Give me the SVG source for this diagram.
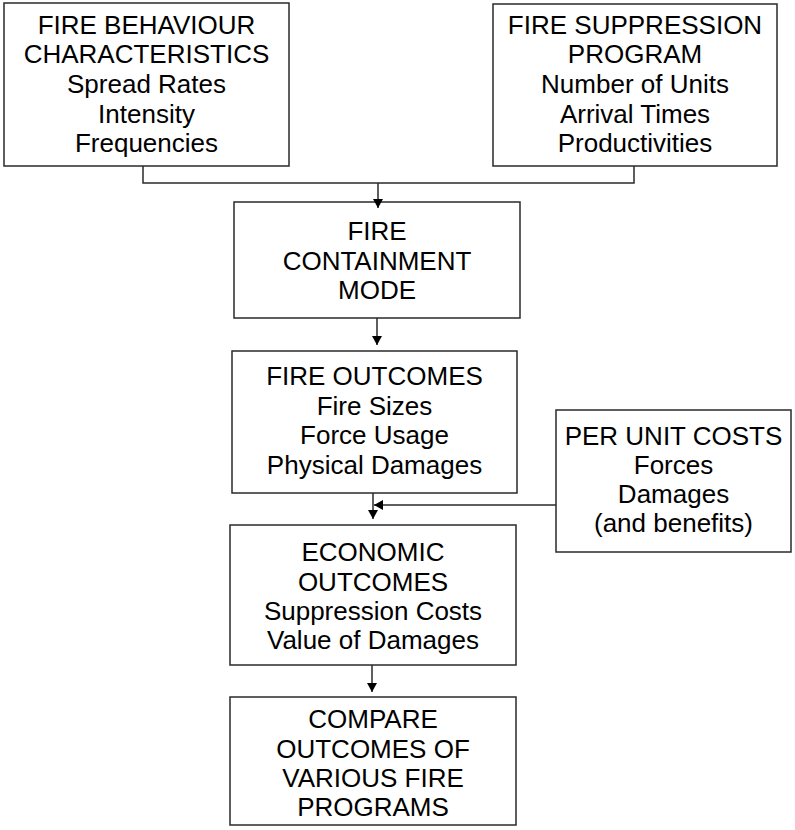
<svg xmlns="http://www.w3.org/2000/svg" width="795" height="830" viewBox="0 0 795 830">
<style>
.box{fill:#fff;stroke:#2a2a2a;stroke-width:1.5}
.t{font-family:"Liberation Sans",Arial,sans-serif;font-size:26px;fill:#000;text-anchor:middle}
.c{fill:none;stroke:#2a2a2a;stroke-width:1.5}
</style>
<defs>
<marker id="ah" viewBox="0 0 9 10" refX="9" refY="5" markerWidth="9" markerHeight="10" markerUnits="userSpaceOnUse" orient="auto">
<path d="M0,0 L9,5 L0,10 Z" fill="#000"/>
</marker>
</defs>
<rect width="795" height="830" fill="#fff"/>
<g id="n1">
<rect class="box" x="4" y="3" width="285" height="163"/>
<text class="t" x="146.5" y="33.5">FIRE BEHAVIOUR</text>
<text class="t" x="146.5" y="63.2">CHARACTERISTICS</text>
<text class="t" x="146.5" y="92.9">Spread Rates</text>
<text class="t" x="146.5" y="122.6">Intensity</text>
<text class="t" x="146.5" y="152.3">Frequencies</text>
</g>
<g id="n2">
<rect class="box" x="493" y="4" width="284" height="162"/>
<text class="t" x="635" y="33.5">FIRE SUPPRESSION</text>
<text class="t" x="635" y="63.2">PROGRAM</text>
<text class="t" x="635" y="92.9">Number of Units</text>
<text class="t" x="635" y="122.6">Arrival Times</text>
<text class="t" x="635" y="152.3">Productivities</text>
</g>
<g id="n3">
<rect class="box" x="234" y="202" width="286" height="116"/>
<text class="t" x="377" y="240">FIRE</text>
<text class="t" x="377" y="269.5">CONTAINMENT</text>
<text class="t" x="377" y="299">MODE</text>
</g>
<g id="n4">
<rect class="box" x="232" y="351" width="285" height="142"/>
<text class="t" x="374.5" y="385">FIRE OUTCOMES</text>
<text class="t" x="374.5" y="414.5">Fire Sizes</text>
<text class="t" x="374.5" y="444">Force Usage</text>
<text class="t" x="374.5" y="473.5">Physical Damages</text>
</g>
<g id="n5">
<rect class="box" x="556" y="410" width="235" height="142"/>
<text class="t" x="673.5" y="445">PER UNIT COSTS</text>
<text class="t" x="673.5" y="474">Forces</text>
<text class="t" x="673.5" y="503">Damages</text>
<text class="t" x="673.5" y="532">(and benefits)</text>
</g>
<g id="n6">
<rect class="box" x="230" y="525" width="286" height="140"/>
<text class="t" x="373" y="561">ECONOMIC</text>
<text class="t" x="373" y="590.5">OUTCOMES</text>
<text class="t" x="373" y="620">Suppression Costs</text>
<text class="t" x="373" y="649">Value of Damages</text>
</g>
<g id="n7">
<rect class="box" x="230" y="697" width="286" height="128"/>
<text class="t" x="373" y="728">COMPARE</text>
<text class="t" x="373" y="757.5">OUTCOMES OF</text>
<text class="t" x="373" y="787">VARIOUS FIRE</text>
<text class="t" x="373" y="816">PROGRAMS</text>
</g>
<g id="connectors">
<polyline class="c" points="143,166 143,183 634,183 634,166"/>
<line class="c" x1="378" y1="183" x2="378" y2="208" marker-end="url(#ah)"/>
<line class="c" x1="377" y1="318" x2="377" y2="345" marker-end="url(#ah)"/>
<line class="c" x1="373" y1="493" x2="373" y2="519" marker-end="url(#ah)"/>
<line class="c" x1="556" y1="505" x2="374" y2="505" marker-end="url(#ah)"/>
<line class="c" x1="372" y1="665" x2="372" y2="692" marker-end="url(#ah)"/>
</g>
</svg>
